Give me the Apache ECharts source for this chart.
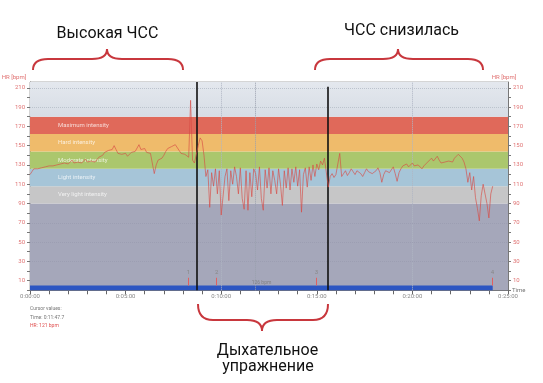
<!DOCTYPE html>
<html><head><meta charset="utf-8">
<script src="https://cdn.jsdelivr.net/npm/echarts@6/dist/echarts.min.js"></script>
<style>html,body{margin:0;padding:0;background:#fff}#c{width:543px;height:383px}</style>
</head><body><div id="c"></div>
<script>
// Heart rate samples, one every 6 seconds
const sampleStepSec = 6;
const hrValues = [
120,123,126,127,126,128,127,129,128,127,
129,130,129,131,130,132,131,133,132,134,
131,133,135,132,134,133,135,132,134,136,
133,131,134,136,133,135,138,137,140,143,
141,145,147,146,150,146,142,143,141,140,
142,139,141,143,141,144,146,151,146,145,
147,143,145,142,140,121,130,135,134,137,
140,144,147,146,149,148,151,149,145,142,
144,141,143,138,197,135,132,131,
150,158,155,140,118,125,86,122,108,126,
100,124,78,76,118,126,93,124,110,128,
118,100,127,95,84,124,83,122,97,126,
121,104,128,95,83,125,106,127,100,124,
114,100,126,110,88,124,106,127,104,126,
112,128,108,125,81,120,127,107,128,114,
130,118,131,125,134,130,137,135,107,118,
121,117,120,122,142,118,121,124,119,122,
126,123,120,124,125,121,118,122,126,123,
125,121,119,124,127,122,112,120,124,126,
122,125,128,121,113,122,126,129,127,131,
128,130,132,129,127,130,128,126,129,131,
133,135,137,134,136,139,135,132,130,133,
131,134,136,133,137,139,141,140,137,133,
126,112,122,104,118,96,85,72,98,110,
100,90,75,100,108
];
const zoneNames = ['Very light intensity','Light intensity','Moderate intensity','Hard intensity','Maximum intensity'];
const zoneLimits = [90,108,126,144,162,180];
const zoneColors = ['#c6c6c7','#a6c5d8','#abc76d','#efbb6b','#e0695a'];
const lapTimes = [497,586,899,1451];
const lapNames = ['1','2','3','4'];
const phaseLineTimes = [523,933];
const cursorTime = 707.7;
const cursorLabel = '126 bpm';
const recordEndSec = 1452;
const xMaxSec = 1500;
const yMax = 216;

const hrData = hrValues.map((v,i)=>[i*sampleStepSec, v]);
function fmtTime(s){
  const h=Math.floor(s/3600), m=Math.floor((s%3600)/60), ss=Math.round(s%60);
  return h+':'+String(m).padStart(2,'0')+':'+String(ss).padStart(2,'0');
}
const zoneAreas = zoneNames.map((n,i)=>[
  {yAxis:zoneLimits[i], name:n, itemStyle:{color:zoneColors[i]}},
  {yAxis:zoneLimits[i+1]}
]);
zoneAreas.unshift([{yAxis:0, name:'', itemStyle:{color:'#a5a7ba'}},{yAxis:90}]);
zoneAreas.push([{yAxis:180, name:'', itemStyle:{color:{type:'linear',x:0,y:0,x2:0,y2:1,colorStops:[{offset:0,color:'#e4e8ee'},{offset:1,color:'#d7dde5'}]}}},{yAxis:yMax}]);
zoneAreas.push([{coord:[0,0], name:'', itemStyle:{color:'#2d56c2'}},{coord:[recordEndSec,5]}]);

const yCommon = {
  type:'value', min:0, max:yMax, interval:10,
  axisLine:{show:true, lineStyle:{color:'#777', width:1}},
  axisTick:{show:true, length:3, lineStyle:{color:'#777'}},
  axisLabel:{fontSize:6, color:'#e07474', margin:5, fontFamily:'Roboto', showMaxLabel:false,
    formatter:v=> (v%20===10 ? String(v) : '')},
  splitLine:{show:false}
};

// curly brace made of bezier curves and lines (annotation decoration)
function brace(x0, x1, xa, yEnd, yMid, yApex){
  const st = {stroke:'#c8373d', lineWidth:2, fill:null};
  const d = yEnd - yMid, a = yApex - yMid;
  return [
    {type:'bezierCurve', shape:{x1:x0,y1:yEnd,cpx1:x0,cpy1:yMid+d*0.3,cpx2:x0+5,cpy2:yMid,x2:x0+15,y2:yMid}, style:st},
    {type:'line', shape:{x1:x0+15,y1:yMid,x2:xa-15,y2:yMid}, style:st},
    {type:'bezierCurve', shape:{x1:xa-15,y1:yMid,cpx1:xa-5,cpy1:yMid,cpx2:xa,cpy2:yMid+a*0.3,x2:xa,y2:yApex}, style:st},
    {type:'bezierCurve', shape:{x1:xa,y1:yApex,cpx1:xa,cpy1:yMid+a*0.3,cpx2:xa+5,cpy2:yMid,x2:xa+15,y2:yMid}, style:st},
    {type:'line', shape:{x1:xa+15,y1:yMid,x2:x1-15,y2:yMid}, style:st},
    {type:'bezierCurve', shape:{x1:x1-15,y1:yMid,cpx1:x1-5,cpy1:yMid,cpx2:x1,cpy2:yMid+d*0.3,x2:x1,y2:yEnd}, style:st}
  ];
}

const chart = echarts.init(document.getElementById('c'), null, {renderer:'canvas'});
chart.setOption({
  animation:false,
  backgroundColor:'#fff',
  grid:{left:30, top:82, width:478, height:208.3, show:true, borderColor:'#aaa', borderWidth:1, containLabel:false},
  xAxis:{
    type:'value', min:0, max:xMaxSec, interval:60,
    name:'Time', nameLocation:'end', nameGap:4,
    nameTextStyle:{fontSize:6, color:'#777', fontFamily:'Roboto', padding:[5,0,0,0]},
    axisLine:{show:true, onZero:false, lineStyle:{color:'#666'}},
    axisTick:{show:true, length:4, lineStyle:{color:'#666'}},
    axisLabel:{fontSize:6, color:'#888', margin:3, fontFamily:'Roboto',
      formatter:v=> (v%300===0 ? fmtTime(v) : '')},
    splitLine:{show:false}
  },
  yAxis:[Object.assign({position:'left'}, yCommon), Object.assign({position:'right'}, yCommon)],
  series:[
    {
      type:'line', data:hrData, z:1, silent:true, showSymbol:false,
      lineStyle:{opacity:0}, itemStyle:{opacity:0},
      markArea:{silent:true,
        label:{show:true, position:'insideLeft', offset:[23,0], fontSize:6, color:'rgba(255,255,255,0.75)', fontFamily:'Roboto', formatter:'{b}'},
        data:zoneAreas}
    },
    {
      type:'line', data:[], z:2, silent:true,
      markLine:{silent:true, symbol:'none', animation:false,
        label:{show:false},
        data:[
          {xAxis:600, lineStyle:{type:'dotted', color:'#b0b6c4', width:1}},
          {xAxis:1200, lineStyle:{type:'dotted', color:'#b0b6c4', width:1}},
          {xAxis:cursorTime, lineStyle:{type:'dotted', color:'#9aa0ae', width:1}},
          {yAxis:190, lineStyle:{type:'dotted', color:'#bcc3cd', width:1}},
          {yAxis:210, lineStyle:{type:'dotted', color:'#bcc3cd', width:1}},
          {yAxis:70, lineStyle:{type:'dotted', color:'#9c9eb2', width:1}},
          {yAxis:50, lineStyle:{type:'dotted', color:'#9c9eb2', width:1}},
          {yAxis:30, lineStyle:{type:'dotted', color:'#9c9eb2', width:1}}
        ]}
    },
    {
      name:'HR', type:'line', data:hrData, z:5, showSymbol:false, smooth:false,
      lineStyle:{color:'#d84a44', width:0.75, opacity:0.85}
    },
    {
      type:'line', data:[], z:6, silent:true,
      markLine:{silent:true, symbol:'none',
        label:{show:true, position:'end', formatter:'{b}', fontSize:6, color:'#888', distance:2, fontFamily:'Roboto'},
        lineStyle:{color:'#e06060', width:1, type:'solid'},
        data: lapTimes.map((t,i)=>[{coord:[t,5], name:lapNames[i]},{coord:[t,13]}])}
    },
    {
      type:'line', data:[], z:7, silent:true,
      markLine:{silent:true, symbol:'none', label:{show:false},
        lineStyle:{color:'#111', width:1.6, type:'solid'},
        data:[
          [{coord:[phaseLineTimes[0],0]},{coord:[phaseLineTimes[0],yMax]}],
          [{coord:[phaseLineTimes[1],0]},{coord:[phaseLineTimes[1],211]}]
        ]}
    },
    {
      type:'scatter', data:[[cursorTime,8]], z:8, symbolSize:0, silent:true,
      label:{show:true, position:'inside', offset:[6,0], formatter:cursorLabel, fontSize:5, color:'#777', fontFamily:'Roboto'}
    }
  ],
  graphic:[
    {type:'text', x:14, y:77, style:{text:'HR [bpm]', fontSize:6, fontFamily:'Roboto', fill:'#e07070', align:'center', verticalAlign:'middle'}},
    {type:'text', x:504, y:77, style:{text:'HR [bpm]', fontSize:6, fontFamily:'Roboto', fill:'#e07070', align:'center', verticalAlign:'middle'}},
    {type:'text', x:30, y:309, style:{text:'Cursor values:', fontSize:5, fontFamily:'Roboto', fill:'#777', align:'left', verticalAlign:'middle'}},
    {type:'text', x:30, y:317.7, style:{text:'Time: 0:11:47.7', fontSize:5, fontFamily:'Roboto', fill:'#777', align:'left', verticalAlign:'middle'}},
    {type:'text', x:30, y:326, style:{text:'HR: 121 bpm', fontSize:5, fontFamily:'Roboto', fill:'#e05050', align:'left', verticalAlign:'middle'}},
    {type:'text', x:107.5, y:33.5, style:{text:'Высокая ЧСС', fontSize:16, fontFamily:'Roboto', fill:'#111', align:'center', verticalAlign:'middle'}},
    {type:'text', x:401.5, y:31, style:{text:'ЧСС снизилась', fontSize:16, fontFamily:'Roboto', fill:'#111', align:'center', verticalAlign:'middle'}},
    {type:'text', x:267.5, y:350.5, style:{text:'Дыхательное', fontSize:16, fontFamily:'Roboto', fill:'#111', align:'center', verticalAlign:'middle'}},
    {type:'text', x:268, y:367, style:{text:'упражнение', fontSize:16, fontFamily:'Roboto', fill:'#111', align:'center', verticalAlign:'middle'}}
  ].concat(brace(33,183,107,70,59,49), brace(315,483,398,70,59,49), brace(198,328,262,304,320,331))
});
</script>
</body></html>
